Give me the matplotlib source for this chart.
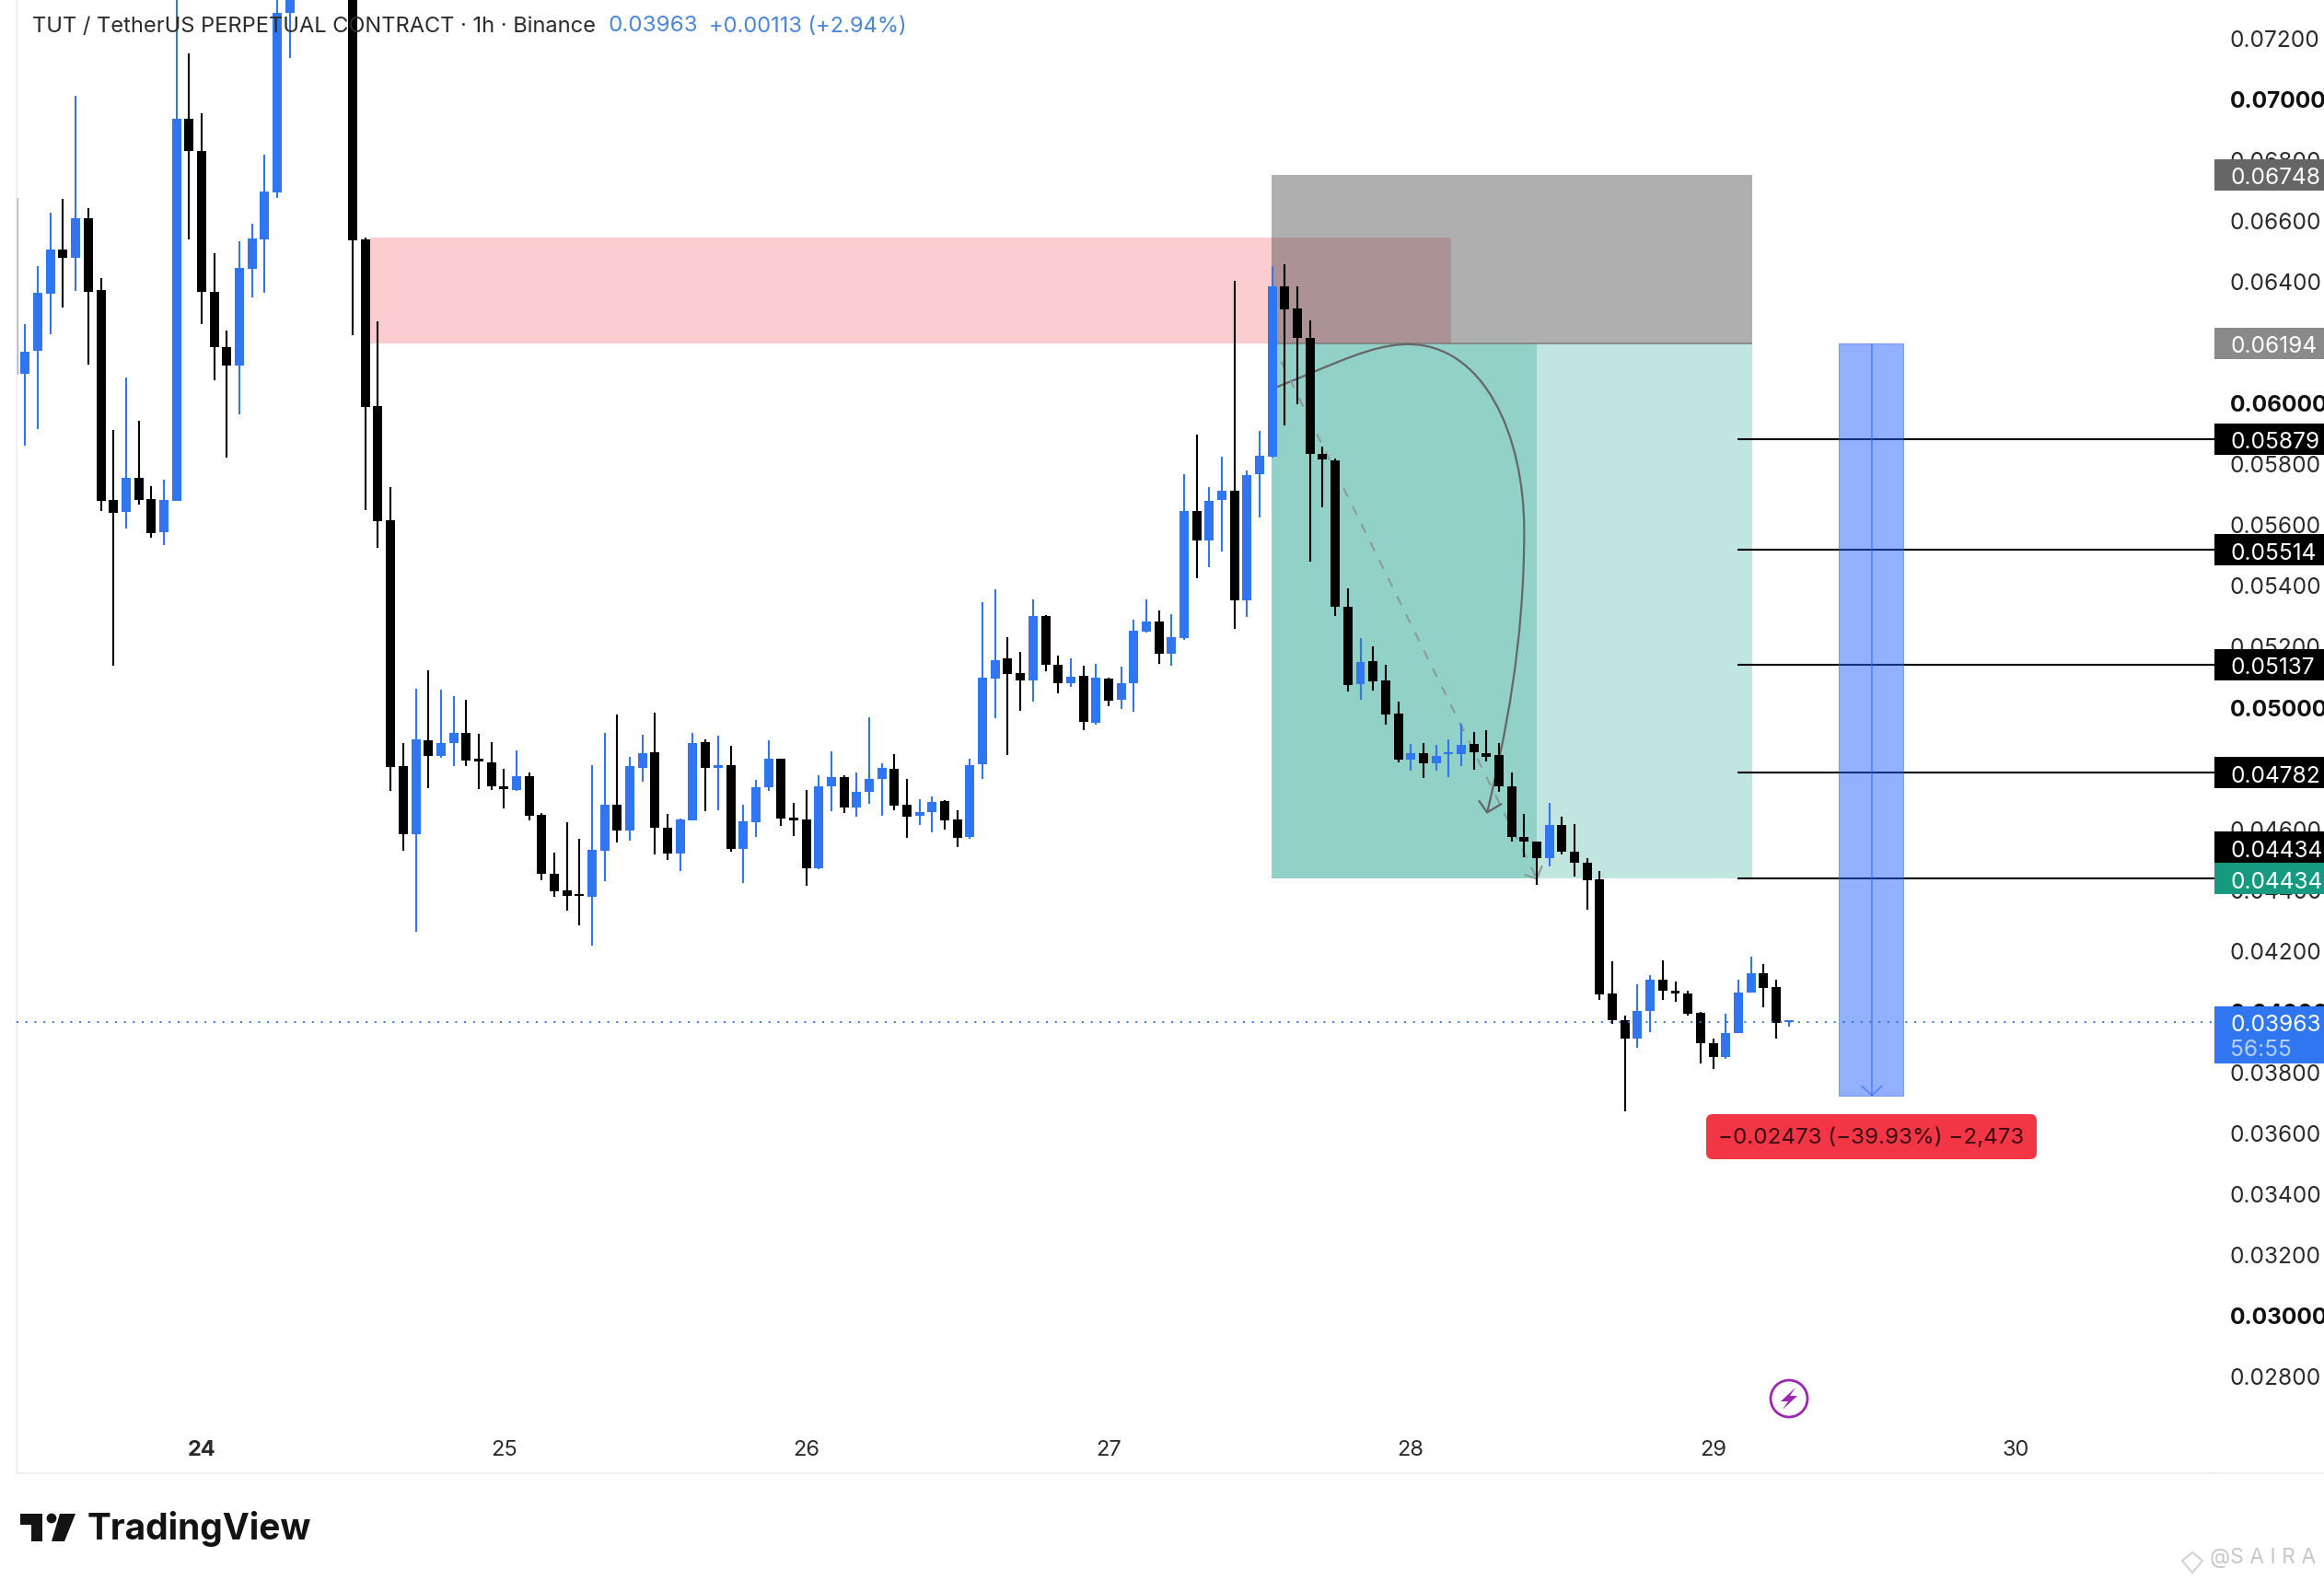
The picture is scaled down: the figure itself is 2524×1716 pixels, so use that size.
import matplotlib
matplotlib.use('Agg')
import matplotlib.pyplot as plt
import numpy as np
from matplotlib.patches import Circle, FancyBboxPatch, PathPatch, Polygon, Rectangle
from matplotlib.path import Path
from matplotlib.transforms import ScaledTranslation, blended_transform_factory

plt.rcParams['font.family'] = ['Inter', 'DejaVu Sans']

# hours since the "24" day tick, candles 8..11 are above the visible range
hours = list(range(-14, 8)) + list(range(12, 127))

# prices in 1e-5 units
opens = [
    6092, 6169, 6356, 6500, 6474, 6603, 6367, 5677, 5639, 5752,
    5680, 5571, 5676, 6930, 6826, 6362, 6180, 6120, 6437, 6535,
    6689, 7278, 7700, 6534, 5988, 5613, 4802, 4579, 4889, 4837,
    4879, 4911, 4827, 4817, 4738, 4725, 4769, 4642, 4450, 4394,
    4381, 4374, 4525, 4675, 4592, 4797, 4848, 4602, 4516, 4625,
    4881, 4797, 4808, 4531, 4619, 4734, 4827, 4633, 4627, 4467,
    4737, 4766, 4667, 4719, 4761, 4793, 4677, 4639, 4652, 4687,
    4627, 4570, 4810, 5091, 5157, 5108, 5085, 5296, 5137, 5076,
    5099, 4945, 5092, 5021, 5076, 5244, 5280, 5173, 5223, 5643,
    5545, 5677, 5707, 5348, 5762, 5820, 6381, 6307, 6212, 5830,
    5809, 5328, 5073, 5150, 5084, 4975, 4824, 4847, 4812, 4843,
    4842, 4875, 4847, 4839, 4738, 4571, 4556, 4501, 4609, 4523,
    4485, 4430, 4055, 3969, 3907, 3999, 4102, 4066, 4057, 3991,
    3893, 3847, 3926, 4058, 4123, 4076, 3961,
]
highs = [
    6255, 6446, 6623, 6669, 7008, 6637, 6409, 5907, 6082, 5937,
    5724, 5746, 7400, 7146, 6948, 6488, 6236, 6530, 6585, 6813,
    7400, 7500, 7800, 6540, 6265, 5720, 4880, 5057, 5117, 5054,
    5035, 5021, 4908, 4881, 4793, 4854, 4783, 4650, 4518, 4618,
    4565, 4808, 4912, 4972, 4835, 4905, 4978, 4645, 4632, 4912,
    4892, 4904, 4871, 4675, 4757, 4887, 4827, 4681, 4724, 4772,
    4851, 4774, 4781, 4963, 4814, 4842, 4762, 4696, 4705, 4693,
    4657, 4827, 5341, 5384, 5228, 5180, 5350, 5301, 5168, 5157,
    5132, 5138, 5093, 5129, 5286, 5352, 5316, 5304, 5762, 5892,
    5720, 5820, 6400, 5776, 5904, 6446, 6454, 6381, 6267, 5854,
    5815, 5389, 5223, 5196, 5135, 5014, 4877, 4880, 4872, 4890,
    4944, 4914, 4921, 4880, 4781, 4645, 4556, 4681, 4638, 4612,
    4502, 4459, 4161, 3982, 4085, 4115, 4164, 4096, 4066, 3994,
    3909, 3988, 4102, 4176, 4154, 4100, 3965,
]
lows = [
    5858, 5910, 6224, 6312, 6365, 6123, 5642, 5133, 5585, 5663,
    5555, 5530, 5674, 6535, 6257, 6072, 5818, 5960, 6345, 6359,
    6670, 7131, 6221, 5645, 5520, 4722, 4525, 4260, 4731, 4830,
    4803, 4805, 4728, 4724, 4663, 4723, 4625, 4428, 4374, 4328,
    4280, 4212, 4424, 4551, 4557, 4751, 4513, 4495, 4458, 4625,
    4655, 4658, 4522, 4419, 4570, 4722, 4607, 4572, 4410, 4466,
    4655, 4648, 4636, 4678, 4639, 4657, 4566, 4611, 4587, 4596,
    4537, 4565, 4761, 4961, 4840, 4985, 5015, 5115, 5044, 5064,
    4921, 4941, 5000, 4990, 4981, 5241, 5139, 5133, 5218, 5420,
    5457, 5508, 5253, 5294, 5620, 5818, 5923, 5993, 5475, 5654,
    5298, 5050, 5021, 5051, 4940, 4816, 4787, 4763, 4789, 4766,
    4803, 4791, 4818, 4719, 4554, 4504, 4413, 4473, 4513, 4440,
    4331, 4034, 3957, 3668, 3877, 3929, 4035, 4029, 3984, 3826,
    3808, 3841, 3926, 4058, 4012, 3909, 3946,
]
closes = [
    6167, 6358, 6500, 6474, 6603, 6362, 5676, 5636, 5752, 5679,
    5569, 5677, 6930, 6826, 6362, 6180, 6120, 6440, 6537, 6691,
    7278, 7450, 6532, 5984, 5608, 4800, 4579, 4890, 4837, 4880,
    4911, 4822, 4820, 4737, 4728, 4769, 4640, 4449, 4392, 4376,
    4377, 4527, 4675, 4591, 4802, 4847, 4601, 4516, 4628, 4880,
    4797, 4807, 4530, 4621, 4735, 4827, 4631, 4625, 4469, 4738,
    4766, 4667, 4720, 4762, 4796, 4673, 4637, 4653, 4686, 4625,
    4567, 4808, 5093, 5153, 5106, 5085, 5296, 5135, 5076, 5098,
    4949, 5093, 5018, 5077, 5247, 5280, 5173, 5228, 5643, 5545,
    5676, 5707, 5348, 5761, 5825, 6381, 6305, 6211, 5830, 5811,
    5327, 5070, 5146, 5082, 4973, 4824, 4847, 4813, 4838, 4850,
    4874, 4849, 4833, 4737, 4569, 4555, 4501, 4609, 4521, 4485,
    4428, 4052, 3967, 3907, 3999, 4102, 4065, 4057, 3989, 3892,
    3847, 3927, 4060, 4123, 4073, 3960, 3963,
]

y_ticks = [0.028 + 0.002 * i for i in range(23)]
bold_ticks = ['0.03000', '0.04000', '0.05000', '0.06000', '0.07000']
day_hours = [0, 24, 48, 72, 96, 120, 144]
day_labels = ['24', '25', '26', '27', '28', '29', '30']

target_levels = [0.05879, 0.05514, 0.05137, 0.04782, 0.04434]
entry = 0.06194
stop = 0.06748
last_price = 0.03963
drop_end = 0.03721

BLUE = '#2F76F0'
W, H = 2524, 1716
TICK_FS = 17.6
TEXT_DROP = 1.5 / 33040  # labels sit a touch lower than their level

fig = plt.figure(figsize=(W / 100, H / 100), dpi=100, facecolor='white')
ax = fig.add_axes([18 / W, (H - 1600) / H, (2405 - 18) / W, 1600 / H])
ax.set_xlim(-14.69, 159.8)
ax.set_ylim(0.02479, 0.073217)

o = np.array(opens) / 1e5
c = np.array(closes) / 1e5
hi = np.array(highs) / 1e5
lo = np.array(lows) / 1e5
xs = np.array(hours)
colors = [BLUE if b >= a else 'black' for a, b in zip(o, c)]

# drawings under the candles
ax.add_patch(Rectangle((13.4, entry), 85.8, 0.0654 - entry, fc='#F23645', alpha=0.25, lw=0, zorder=1))
ax.add_patch(Rectangle((84.95, entry), 38.15, stop - entry, fc='#474747', alpha=0.43, lw=0, zorder=1.1))
ax.add_patch(Rectangle((84.95, 0.04434), 38.15, entry - 0.04434, fc='#089981', alpha=0.25, lw=0, zorder=1.1))
ax.add_patch(Rectangle((84.95, 0.04434), 21.05, entry - 0.04434, fc='#089981', alpha=0.25, lw=0, zorder=1.2))
ax.hlines(entry, 84.95, 123.1, color='#808080', lw=1.2, zorder=1.3)

curve = Path(
    [(85.4, .0605), (90, .06126), (92.9, .0619), (95.8, .0619),
     (101.7, .0619), (105, .05899), (105, .05576),
     (105, .05204), (103.5, .04901), (102.06, .04651)],
    [Path.MOVETO] + [Path.CURVE4] * 9)
ax.add_patch(PathPatch(curve, fc='none', ec='#666666', lw=1.6, zorder=2))
ax.plot([101.44, 102.06, 103.15], [.04688, .04651, .04678], color='#666666', lw=1.6, zorder=2)
ax.plot([85.7, 106], [.06133, .04433], color='#8C9A98', lw=1.5, ls=(0, (5, 5.5)), zorder=2)
ax.plot([105.1, 106, 106.4], [.04446, .04433, .04473], color='#8C9A98', lw=1.5, zorder=2)

# candles
ax.vlines(-14.6, 0.0609, 0.0667, color='#999999', lw=1.2, zorder=2.5)
ax.vlines(xs, lo, hi, colors=colors, lw=1.5, zorder=3)
ax.bar(xs, np.maximum(np.abs(c - o), 0.00006), bottom=np.minimum(o, c), width=0.73, color=colors, lw=0, zorder=3.1)

# right hand tools
ax.hlines(target_levels, 121.9, 159.8, color='black', lw=1.5, zorder=3.5)
ax.add_patch(Rectangle((130.0, drop_end), 5.1, entry - drop_end, fc='#2962FF', alpha=0.5, ec='#2962FF', lw=0.8, zorder=4))
ax.vlines(132.6, drop_end, entry, color='#2962FF', lw=1.2, alpha=0.6, zorder=4.1)
ax.plot([131.82, 132.6, 133.38], [drop_end + .0003, drop_end, drop_end + .0003], color='#2962FF', lw=1.2, alpha=0.6, zorder=4.1)
ax.axhline(last_price, color=BLUE, lw=1.4, ls=(0, (1, 4)), zorder=3.6)

# axes
for side in ['top', 'right']:
    ax.spines[side].set_visible(False)
for side in ['left', 'bottom']:
    ax.spines[side].set_color('#ECECEC')
    ax.spines[side].set_linewidth(1.2)
ax.yaxis.tick_right()
ax.set_yticks(y_ticks)
ax.set_yticklabels([f'{v:.5f}' for v in y_ticks])
ax.tick_params(axis='y', length=0, pad=12, labelsize=TICK_FS, labelcolor='#2b2b2b')
nudge = ScaledTranslation(0, -1.5 / 100, fig.dpi_scale_trans)
for lab in ax.get_yticklabels():
    lab.set_transform(lab.get_transform() + nudge)
    if lab.get_text() in bold_ticks:
        lab.set_fontweight('bold')
        lab.set_color('#111111')
ax.set_xticks(day_hours)
ax.set_xticklabels(day_labels)
ax.tick_params(axis='x', length=0, pad=-26, labelsize=17, labelcolor='#2b2b2b')
ax.get_xticklabels()[0].set_fontweight('bold')

# price labels on the scale
tr = blended_transform_factory(fig.transFigure, ax.transData)
box_x = 2405 / W
box_w = (W - 2405) / W
half = 17 / 33040
tag_list = [
    (0.06748, '0.06748', '#666666', 'white'),
    (0.06194, '0.06194', '#8A8A8A', 'white'),
    (0.05879, '0.05879', 'black', 'white'),
    (0.05514, '0.05514', 'black', 'white'),
    (0.05137, '0.05137', 'black', 'white'),
    (0.04782, '0.04782', 'black', 'white'),
    (0.04537, '0.04434', 'black', 'white'),
    (0.04434, '0.04434', '#159A80', 'white'),
]
for p, txt, bg, fg in tag_list:
    ax.add_patch(Rectangle((box_x, p - half), box_w, 2 * half, transform=tr, fc=bg, lw=0, clip_on=False, zorder=10))
    ax.text(2422 / W, p - TEXT_DROP, txt, transform=tr, color=fg, fontsize=TICK_FS, va='center_baseline', ha='left', zorder=11, clip_on=False)
ax.add_patch(Rectangle((box_x, last_price - 45 / 33040), box_w, 62 / 33040, transform=tr, fc=BLUE, lw=0, clip_on=False, zorder=10))
ax.text(2422 / W, last_price - TEXT_DROP, '0.03963', transform=tr, color='white', fontsize=TICK_FS, va='center_baseline', zorder=11, clip_on=False)
ax.text(2422 / W, last_price - 28 / 33040, '56:55', transform=tr, color='#B4D0FB', fontsize=TICK_FS, va='center_baseline', zorder=11, clip_on=False)

# overlay in pixel coordinates for logo, header and other furniture
ov = fig.add_axes([0, 0, 1, 1], facecolor='none')
ov.set_xlim(0, W)
ov.set_ylim(H, 0)
ov.axis('off')

ov.plot([2405, W], [1600, 1600], color='#ECECEC', lw=1.2)

ov.text(35, 28.5, 'TUT / TetherUS PERPETUAL CONTRACT · 1h · Binance', fontsize=17, color='#2b2b2b', va='center', ha='left')
ov.text(660, 28.5, '0.03963', fontsize=17.4, color='#4A86D8', va='center', ha='left')
ov.text(770, 28.5, '+0.00113 (+2.94%)', fontsize=17, color='#4A86D8', va='center', ha='left')

ov.add_patch(FancyBboxPatch((1853, 1210), 359, 49, boxstyle='round,pad=0,rounding_size=7', fc='#F23645', ec='none'))
ov.text(2032, 1236, '−0.02473 (−39.93%) −2,473', fontsize=17.4, color='#3b0d12', va='center', ha='center')

# lightning icon
ov.add_patch(Circle((1943, 1519), 20, fc='white', ec='#9C27B0', lw=2))
ov.add_patch(Polygon([(1950, 1507), (1934, 1522), (1942, 1522), (1936, 1531), (1952, 1516), (1944, 1516)], fc='#9C27B0', ec='none'))

# TradingView logo
ov.add_patch(Polygon([(22, 1644), (46, 1644), (46, 1674), (34, 1674), (34, 1656), (22, 1656)], fc='#131313', ec='none'))
ov.add_patch(Circle((56, 1649), 5.4, fc='#131313', ec='none'))
ov.add_patch(Polygon([(65, 1644), (82, 1644), (70, 1674), (56, 1674)], fc='#131313', ec='none'))
ov.text(95, 1661, 'TradingView', fontsize=28, fontweight='bold', color='#131313', va='center', ha='left')

# watermark
ov.add_patch(Polygon([(2381, 1686), (2392, 1695), (2381, 1708), (2370, 1695)], fc='none', ec='#D0D0D0', lw=1.4))
ov.text(2400, 1692, '@S A I R A', fontsize=16.5, color='#C8C8C8', va='center', ha='left')

fig.savefig('out.png', dpi=100)
